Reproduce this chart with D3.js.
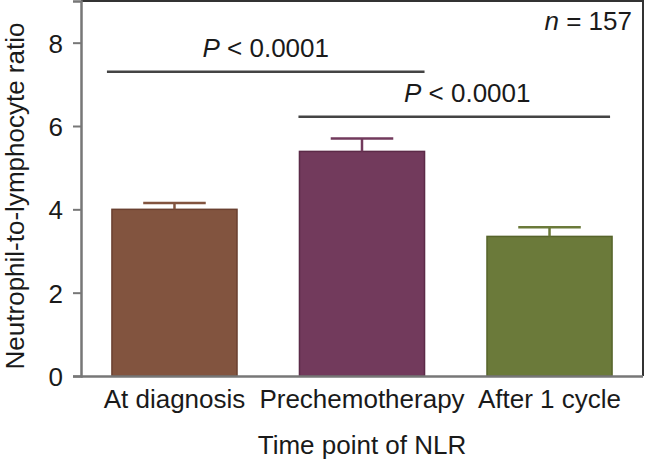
<!DOCTYPE html>
<html lang="en">
<head>
<meta charset="UTF-8">
<title>NLR by time point</title>
<script src="https://d3js.org/d3.v7.min.js"></script>
<style>
  body { margin: 0; background: #fff; }
  svg { display: block; font-family: "Liberation Sans", Arial, Helvetica, sans-serif; }
  .tick text { font-size: 26px; fill: #1a1a1a; }
</style>
</head>
<body>
<svg width="645" height="461"></svg>
<script>
// Data
const categories = ["At diagnosis", "Prechemotherapy", "After 1 cycle"];
const means = [4.0, 5.39, 3.35];
const sems = [0.15, 0.31, 0.22];
const barColors = ["#82543f", "#723a5c", "#6b7a3a"];
const edgeColors = ["#6a4030", "#5c2a48", "#56642a"];
const yTicks = [0, 2, 4, 6, 8];

// significance brackets (level in data units)
const compFrom = [0, 1];
const compTo = [1, 2];
const compLevel = [7.3, 6.22];
const compLabel = ["< 0.0001", "< 0.0001"];

const fontSize = 26;
const plotLeft = 81, plotRight = 643, plotTop = 1, plotBottom = 376;

const svg = d3.select("svg");

const x = d3.scaleBand()
    .domain(categories)
    .range([plotLeft, plotRight])
    .paddingInner(0.333)
    .paddingOuter(0.165);

const y = d3.scaleLinear()
    .domain([0, 9])
    .range([plotBottom, plotTop]);

// frame: top and right sides
svg.append("path")
    .attr("d", `M${plotLeft},${plotTop} H${plotRight} V${plotBottom}`)
    .attr("fill", "none")
    .attr("stroke", "#333")
    .attr("stroke-width", 2);

// bars
svg.selectAll("rect.bar")
    .data(categories)
    .enter().append("rect")
    .attr("class", "bar")
    .attr("x", d => x(d))
    .attr("y", (d, i) => y(means[i]))
    .attr("width", x.bandwidth())
    .attr("height", (d, i) => y(0) - y(means[i]))
    .attr("fill", (d, i) => barColors[i])
    .attr("stroke", (d, i) => edgeColors[i])
    .attr("stroke-width", 1.5);

// error bars (upper only)
const capHalf = x.bandwidth() / 4;
categories.forEach((c, i) => {
    const cx = x(c) + x.bandwidth() / 2;
    const g = svg.append("g")
        .attr("stroke", barColors[i])
        .attr("stroke-width", 2.5)
        .attr("fill", "none");
    g.append("line")
        .attr("x1", cx).attr("x2", cx)
        .attr("y1", y(means[i])).attr("y2", y(means[i] + sems[i]));
    g.append("line")
        .attr("x1", cx - capHalf).attr("x2", cx + capHalf)
        .attr("y1", y(means[i] + sems[i])).attr("y2", y(means[i] + sems[i]));
});

// axes
const yAxis = svg.append("g")
    .attr("transform", `translate(${plotLeft},0)`)
    .call(d3.axisLeft(y).tickValues(yTicks).tickSize(8).tickPadding(10));
const xAxis = svg.append("g")
    .attr("transform", `translate(0,${plotBottom})`)
    .call(d3.axisBottom(x).tickSize(0).tickPadding(14));

[yAxis, xAxis].forEach(a => {
    a.select(".domain").attr("stroke", "#777").attr("stroke-width", 2.5);
    a.selectAll(".tick line").attr("stroke", "#777").attr("stroke-width", 2);
    a.selectAll(".tick text").style("font-size", fontSize + "px").attr("fill", "#1a1a1a");
});
xAxis.select(".domain").attr("d", `M${plotLeft},0.5H${plotRight}`);
xAxis.selectAll(".tick text").attr("dy", "0.71em");
yAxis.selectAll(".tick text").attr("dy", "0.36em");

// significance lines and labels
compFrom.forEach((a, k) => {
    const b = compTo[k];
    const x1 = x(categories[a]) - (k === 0 ? 5 : 1);
    const x2 = x(categories[b]) + x.bandwidth() - (k === 0 ? 0 : 2);
    const ly = y(compLevel[k]);
    svg.append("line")
        .attr("x1", x1).attr("x2", x2)
        .attr("y1", ly).attr("y2", ly)
        .attr("stroke", "#444")
        .attr("stroke-width", 2.5);
    const t = svg.append("text")
        .attr("x", (x1 + x2) / 2 + (k === 0 ? 0 : 13))
        .attr("y", ly - 15)
        .attr("text-anchor", "middle")
        .style("font-size", fontSize + "px")
        .attr("fill", "#1a1a1a");
    t.append("tspan").style("font-style", "italic").text("P");
    t.append("tspan").text(" " + compLabel[k]);
});

// n label
const nt = svg.append("text")
    .attr("x", 632)
    .attr("y", 30)
    .attr("text-anchor", "end")
    .style("font-size", fontSize + "px")
    .attr("fill", "#1a1a1a");
nt.append("tspan").style("font-style", "italic").text("n");
nt.append("tspan").text(" = 157");

// axis titles
svg.append("text")
    .attr("x", (plotLeft + plotRight) / 2)
    .attr("y", 454)
    .attr("text-anchor", "middle")
    .style("font-size", fontSize + "px")
    .attr("fill", "#1a1a1a")
    .text("Time point of NLR");

svg.append("text")
    .attr("transform", "translate(23.5,196) rotate(-90)")
    .attr("text-anchor", "middle")
    .style("font-size", fontSize + "px")
    .attr("fill", "#1a1a1a")
    .text("Neutrophil-to-lymphocyte ratio");
</script>
</body>
</html>
